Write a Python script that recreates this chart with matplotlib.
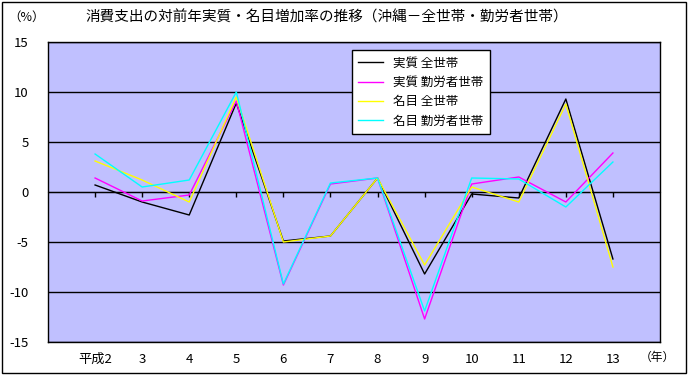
import numpy as np
import matplotlib.pyplot as plt
from matplotlib.patches import Rectangle

plt.rcParams['font.family'] = ['Noto Sans CJK JP', 'DejaVu Sans']

years = ['平成2', '3', '4', '5', '6', '7', '8', '9', '10', '11', '12', '13']

real_all = [0.7, -1.0, -2.3, 8.9, -4.9, -4.4, 1.4, -8.2, -0.2, -0.6, 9.3, -6.7]
real_work = [1.4, -0.9, -0.3, 9.1, -9.3, 0.8, 1.4, -12.7, 0.8, 1.5, -1.0, 3.9]
nom_all = [3.1, 1.2, -1.0, 9.5, -5.0, -4.4, 1.4, -7.3, 0.5, -1.0, 8.8, -7.5]
nom_work = [3.8, 0.5, 1.2, 10.0, -9.2, 0.9, 1.4, -11.9, 1.4, 1.3, -1.5, 3.0]

series = [
    ('実質 全世帯', real_all, 'black'),
    ('実質 勤労者世帯', real_work, '#FF00FF'),
    ('名目 全世帯', nom_all, '#FFFF00'),
    ('名目 勤労者世帯', nom_work, '#00FFFF'),
]

W, H = 691, 380
fig = plt.figure(figsize=(W / 100, H / 100), dpi=100)
ax = fig.add_axes([48 / W, 1 - 342 / H, (660 - 48) / W, 300 / H])
ax.set_facecolor('#C0C0FF')

x = np.arange(len(years))
for label, vals, col in series:
    ax.plot(x, vals, color=col, lw=1.0, label=label)

ax.set_xlim(-1, len(years))
ax.set_ylim(-15, 15)
ax.set_yticks(np.arange(-15, 16, 5))
ax.set_yticklabels([str(v) for v in range(-15, 16, 5)])
ax.grid(axis='y', color='black', lw=1.0)
ax.set_axisbelow(True)
ax.set_xticks(x)
ax.set_xticklabels(years)
ax.tick_params(axis='x', length=0, pad=8, labelsize=9.5)
ax.tick_params(axis='y', length=0, pad=14, labelsize=9.5)
for s in ax.spines.values():
    s.set_color('black')
    s.set_linewidth(1.0)

# category ticks along the zero line
sec = ax.secondary_xaxis(0.5)
sec.set_xticks(x)
sec.set_xticklabels([])
sec.tick_params(direction='in', length=3.5, width=1.0, color='black')
sec.spines['bottom'].set_visible(False)

leg = ax.legend(loc='upper left', bbox_to_anchor=(0.497, 0.972), borderaxespad=0,
                fancybox=False, edgecolor='black', framealpha=1, fontsize=9,
                handlelength=2.0, labelspacing=0.5, borderpad=0.5)
leg.get_frame().set_linewidth(1.0)

fig.text(8 / W, 1 - 17 / H, '（%）', fontsize=9, va='center', ha='left')
fig.text(85 / W, 1 - 17 / H, '消費支出の対前年実質・名目増加率の推移（沖縄－全世帯・勤労者世帯）',
         fontsize=10.5, va='center', ha='left')
fig.text(640 / W, 1 - 357 / H, '（年）', fontsize=8.5, va='center', ha='left')

fig.patches.append(Rectangle((1.5 / W, 1 - 373 / H), 684 / W, 371 / H,
                             transform=fig.transFigure, fill=False,
                             edgecolor='black', lw=1.0))

fig.savefig('out.png', dpi=100)
